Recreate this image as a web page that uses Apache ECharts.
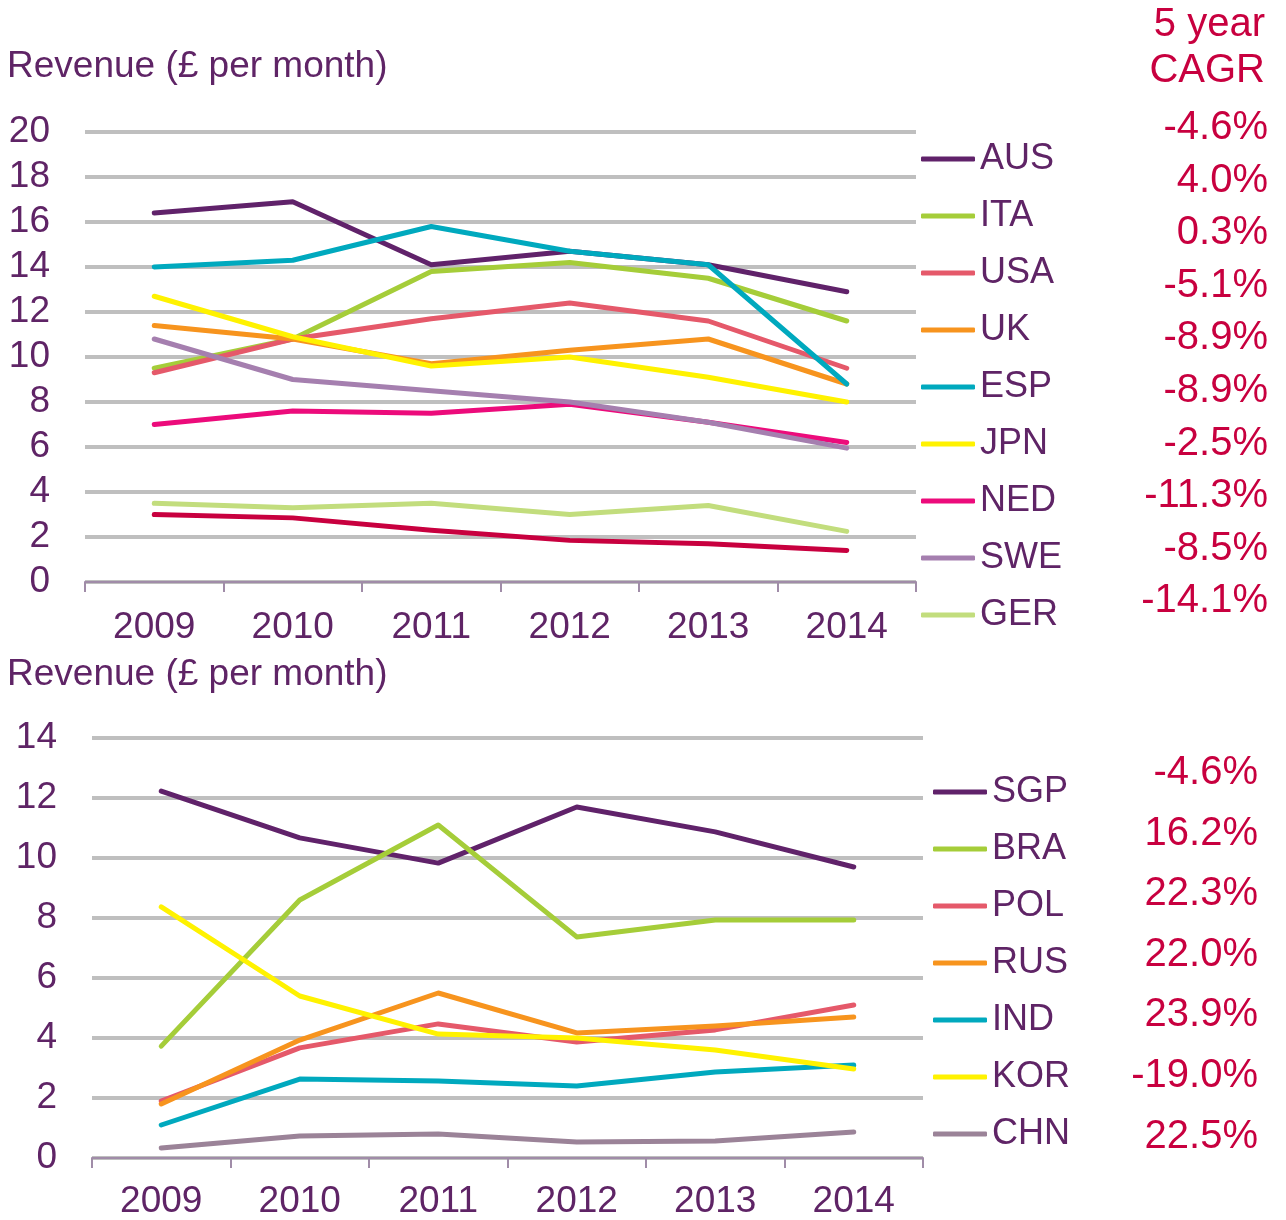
<!DOCTYPE html>
<html>
<head>
<meta charset="utf-8">
<script src="https://cdn.jsdelivr.net/npm/echarts@6/dist/echarts.min.js"></script>
<style>
  html, body { margin: 0; padding: 0; background: #fff; }
  #chart { width: 1286px; height: 1220px; }
</style>
</head>
<body>
<div id="chart"></div>
<script>
// categories
const years = ['2009', '2010', '2011', '2012', '2013', '2014']

// top panel - revenue (£ per month)
const AUS = [16.4, 16.9, 14.1, 14.7, 14.1, 12.9]
const ITA = [9.5, 10.8, 13.8, 14.2, 13.5, 11.6]
const USA = [9.3, 10.8, 11.7, 12.4, 11.6, 9.5]
const UK = [11.4, 10.8, 9.7, 10.3, 10.8, 8.8]
const ESP = [14.0, 14.3, 15.8, 14.7, 14.1, 8.8]
const JPN = [12.7, 10.9, 9.6, 10.0, 9.1, 8.0]
const NED = [7.0, 7.6, 7.5, 7.9, 7.1, 6.2]
const SWE = [10.8, 9.0, 8.5, 8.0, 7.1, 5.95]
const GER = [3.5, 3.3, 3.5, 3.0, 3.4, 2.25]
const OTHER = [3.0, 2.85, 2.3, 1.85, 1.7, 1.4] // 10th line, its legend entry is cut off

const topNames = ['AUS', 'ITA', 'USA', 'UK', 'ESP', 'JPN', 'NED', 'SWE', 'GER']
const topValues = [AUS, ITA, USA, UK, ESP, JPN, NED, SWE, GER]
const topCagr = ['-4.6%', '4.0%', '0.3%', '-5.1%', '-8.9%', '-8.9%', '-2.5%', '-11.3%', '-8.5%', '-14.1%']

// bottom panel
const SGP = [12.23, 10.67, 9.83, 11.7, 10.87, 9.7]
const BRA = [3.73, 8.6, 11.1, 7.37, 7.93, 7.93]
const POL = [1.9, 3.67, 4.47, 3.87, 4.27, 5.1]
const RUS = [1.8, 3.93, 5.5, 4.17, 4.4, 4.7]
const IND = [1.1, 2.63, 2.57, 2.4, 2.87, 3.1]
const KOR = [8.37, 5.4, 4.13, 4.0, 3.6, 2.97]
const CHN = [0.33, 0.73, 0.8, 0.53, 0.57, 0.87]

const bottomNames = ['SGP', 'BRA', 'POL', 'RUS', 'IND', 'KOR', 'CHN']
const bottomValues = [SGP, BRA, POL, RUS, IND, KOR, CHN]
const bottomCagr = ['-4.6%', '16.2%', '22.3%', '22.0%', '23.9%', '-19.0%', '22.5%']

const colors = {
  AUS: '#60226a', ITA: '#a5cd39', USA: '#e5596a', UK: '#f7941e', ESP: '#00a9be',
  JPN: '#fff200', NED: '#ec0b7b', SWE: '#a57faf', GER: '#c2dd7d', OTHER: '#c8003f',
  SGP: '#60226a', BRA: '#a5cd39', POL: '#e5596a', RUS: '#f7941e', IND: '#00a9be',
  KOR: '#fff200', CHN: '#9b8398'
}

const purple = '#5f2466'
const crimson = '#c8003f'
const font = '"Liberation Sans", Arial, sans-serif'

const lineSeries = (name, data, idx) => ({
  name: name,
  type: 'line',
  xAxisIndex: idx,
  yAxisIndex: idx,
  data: data,
  symbol: 'none',
  animation: false,
  lineStyle: { width: 5, color: colors[name], cap: 'round', join: 'round' },
  itemStyle: { color: colors[name] }
})

const series = []
topNames.forEach((n, i) => series.push(lineSeries(n, topValues[i], 0)))
series.push(lineSeries('OTHER', OTHER, 0))
bottomNames.forEach((n, i) => series.push(lineSeries(n, bottomValues[i], 1)))

const xAxisBase = (idx, margin) => ({
  type: 'category',
  gridIndex: idx,
  data: years,
  boundaryGap: true,
  z: 5,
  axisLine: { lineStyle: { color: '#a08ca8', width: 2 } },
  axisTick: { show: true, length: 10, lineStyle: { color: '#a08ca8', width: 2 } },
  axisLabel: { color: purple, fontSize: 37, fontFamily: font, margin: margin }
})

const yAxisBase = (idx, max) => ({
  type: 'value',
  gridIndex: idx,
  min: 0,
  max: max,
  interval: 2,
  axisLine: { show: false },
  axisTick: { show: false },
  axisLabel: { color: purple, fontSize: 37, fontFamily: font, margin: 35 },
  splitLine: { lineStyle: { color: '#bfbfbf', width: 4 } }
})

const legendBase = (names, left, top) => ({
  data: names.map(n => ({ name: n, icon: 'roundRect' })),
  orient: 'vertical',
  left: left,
  top: top,
  padding: 0,
  itemWidth: 54,
  itemHeight: 5,
  itemGap: 17,
  selectedMode: false,
  textStyle: { color: purple, fontSize: 36, fontFamily: font, lineHeight: 40 }
})

const cagrText = (list, right, firstY, step) => list.map((t, i) => ({
  type: 'text',
  x: right,
  y: firstY + i * step,
  style: {
    text: t, fill: crimson, fontSize: 40, fontFamily: font,
    align: 'right', verticalAlign: 'middle'
  }
}))

const chart = echarts.init(document.getElementById('chart'))
chart.setOption({
  animation: false,
  backgroundColor: '#fff',
  title: [
    { text: 'Revenue (£ per month)', left: 2, top: 43, textStyle: { color: purple, fontSize: 37, fontWeight: 'normal', fontFamily: font } },
    { text: 'Revenue (£ per month)', left: 2, top: 651, textStyle: { color: purple, fontSize: 37, fontWeight: 'normal', fontFamily: font } }
  ],
  grid: [
    { left: 85, top: 132, width: 831, height: 450 },
    { left: 92, top: 738, width: 831, height: 420 }
  ],
  xAxis: [xAxisBase(0, 27), xAxisBase(1, 25)],
  yAxis: [yAxisBase(0, 20), yAxisBase(1, 14)],
  legend: [
    legendBase(topNames, 921, 139),
    legendBase(bottomNames, 933, 772)
  ],
  graphic: [
    { type: 'text', x: 1265, y: 25, style: { text: '5 year', fill: crimson, fontSize: 40, fontFamily: font, align: 'right', verticalAlign: 'middle' } },
    { type: 'text', x: 1265, y: 71, style: { text: 'CAGR', fill: crimson, fontSize: 40, fontFamily: font, align: 'right', verticalAlign: 'middle' } },
    ...cagrText(topCagr, 1268, 128, 52.6),
    ...cagrText(bottomCagr, 1258, 773, 60.6)
  ],
  series: series
})

window.addEventListener('resize', function() {
  chart.resize()
})
</script>
</body>
</html>
